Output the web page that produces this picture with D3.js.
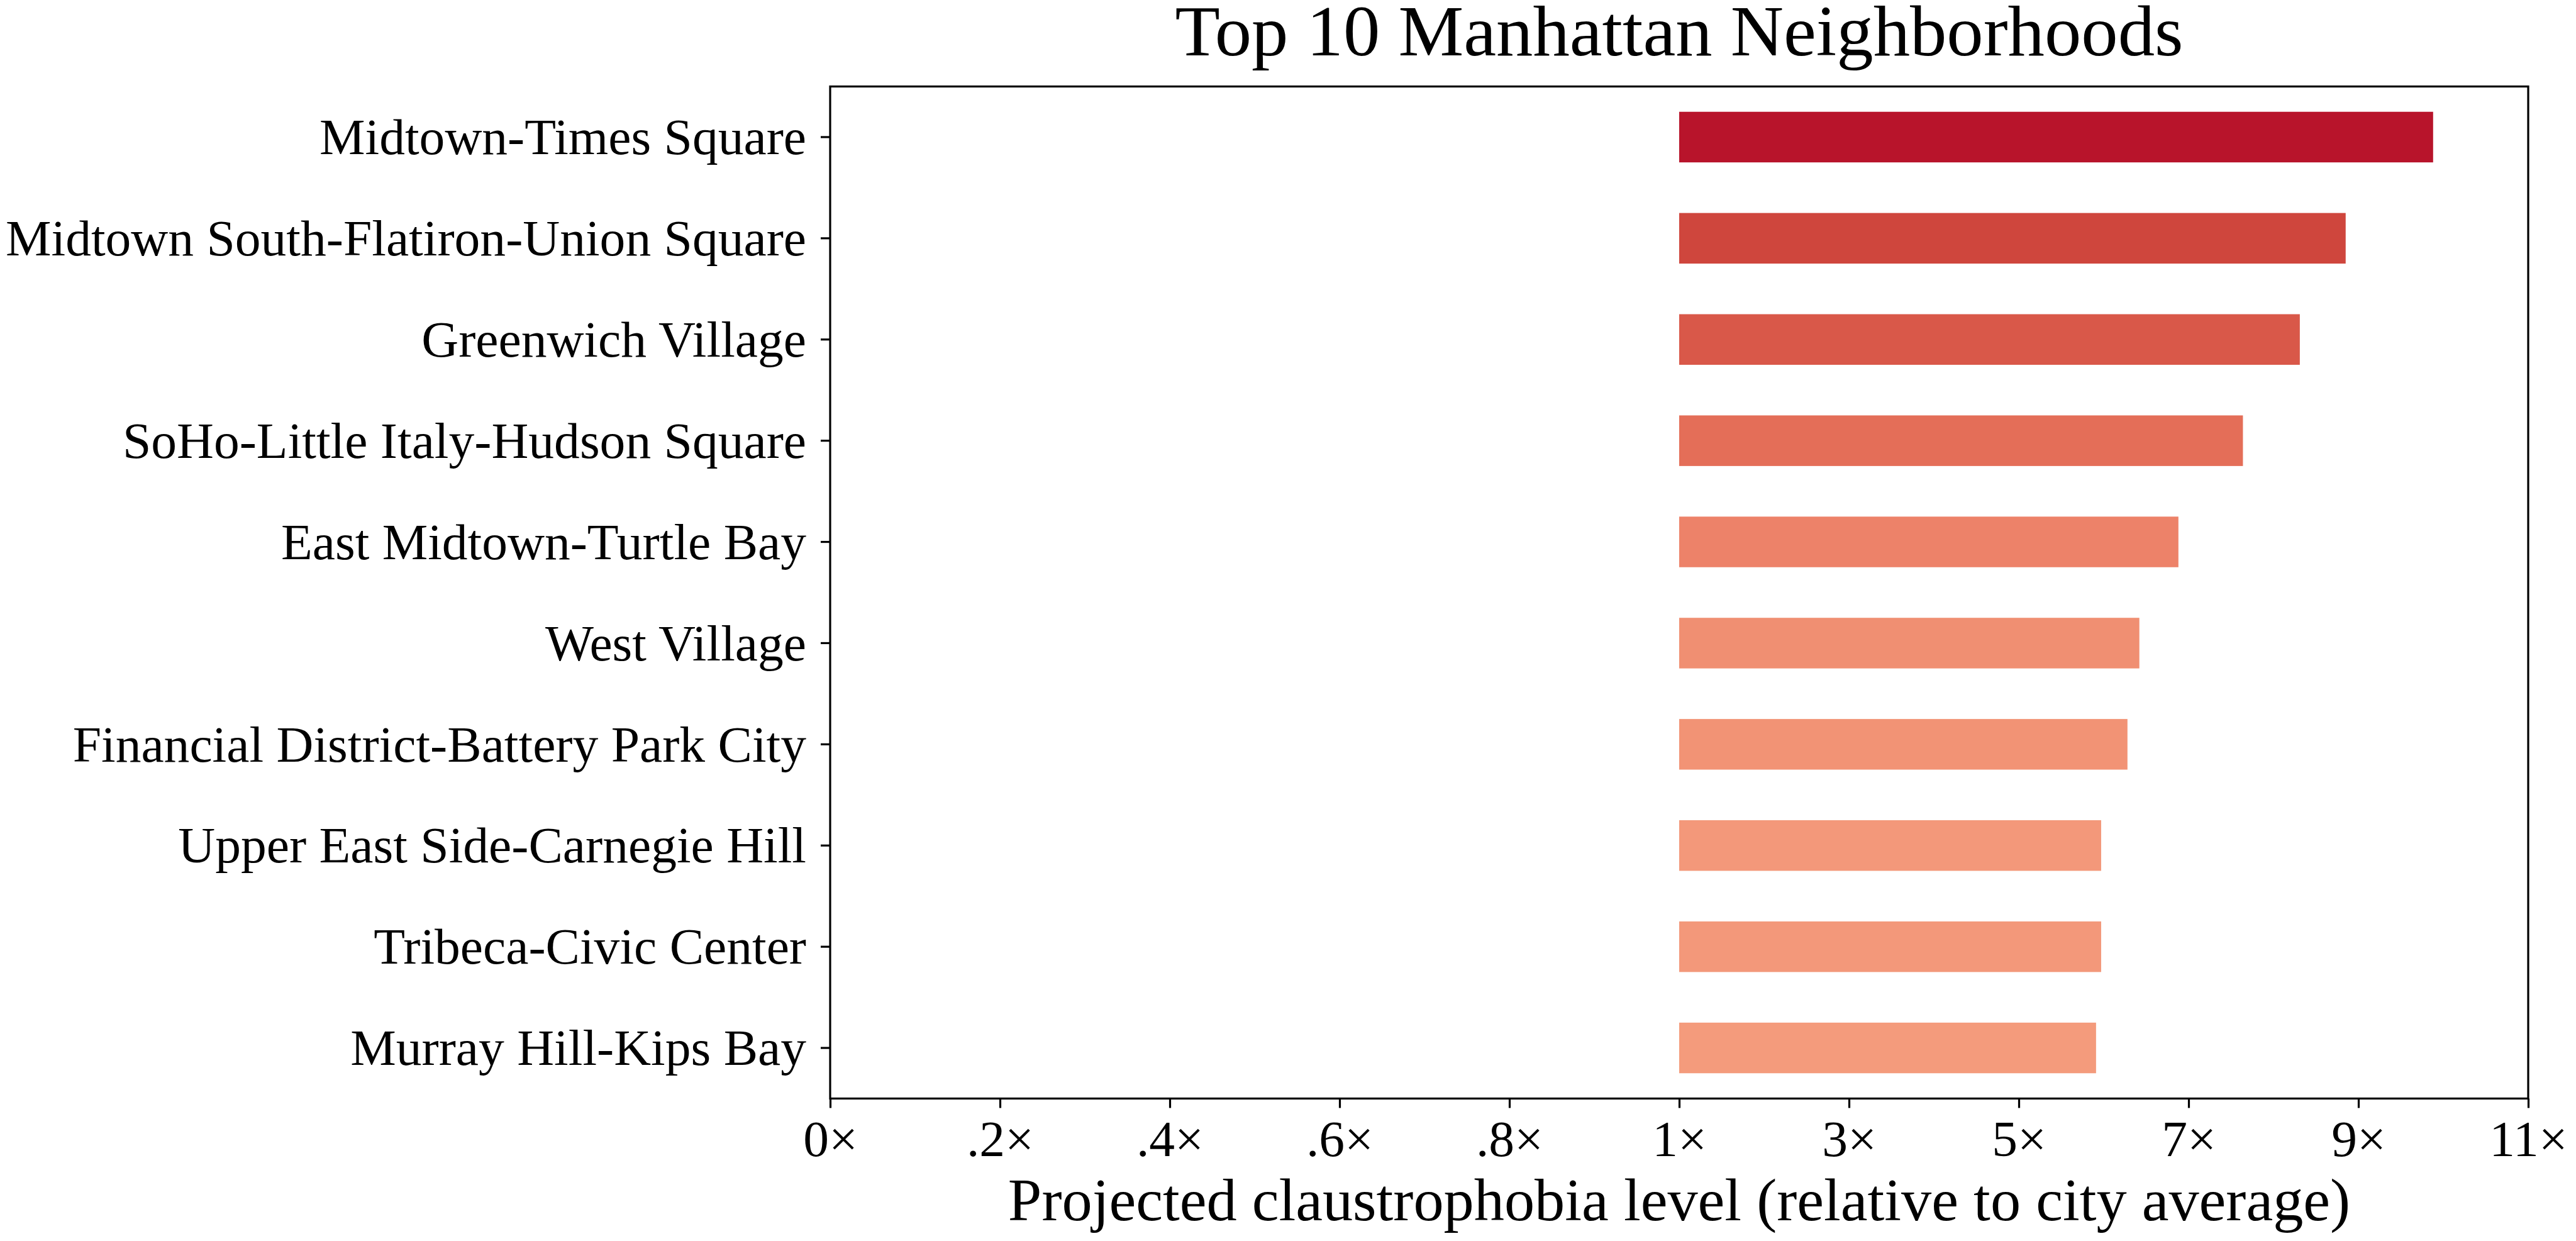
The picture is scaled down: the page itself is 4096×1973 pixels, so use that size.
<!DOCTYPE html>
<html>
<head>
<meta charset="utf-8">
<script src="https://cdn.jsdelivr.net/npm/d3@7"></script>
<style>
html,body{margin:0;padding:0;background:#fff;}
svg{display:block;}
text{font-family:"Liberation Serif","DejaVu Serif",serif;fill:#000;}
</style>
</head>
<body>
<script>
const categories = [
  "Midtown-Times Square",
  "Midtown South-Flatiron-Union Square",
  "Greenwich Village",
  "SoHo-Little Italy-Hudson Square",
  "East Midtown-Turtle Bay",
  "West Village",
  "Financial District-Battery Park City",
  "Upper East Side-Carnegie Hill",
  "Tribeca-Civic Center",
  "Murray Hill-Kips Bay"
];
const values = [9.88, 8.85, 8.31, 7.64, 6.88, 6.42, 6.28, 5.97, 5.97, 5.91];
const barColors = ["#b8142b","#cf463d","#d95849","#e46e58","#ed8269","#f08f72","#f29375","#f3987a","#f3987a","#f49b7c"];
const tickValues = [0, 0.2, 0.4, 0.6, 0.8, 1, 3, 5, 7, 9, 11];
const tickLabels = ["0×", ".2×", ".4×", ".6×", ".8×", "1×", "3×", "5×", "7×", "9×", "11×"];
const baseValue = 1;
const titleText = "Top 10 Manhattan Neighborhoods";
const xLabelText = "Projected claustrophobia level (relative to city average)";

const W = 4096, H = 1973;
const m = {left: 1320, right: 4020, top: 137.5, bottom: 1746.5};
const lw = 3.2, tickLen = 15;

const svg = d3.select("body").append("svg").attr("width", W).attr("height", H);

const x = d3.scaleLinear().domain([0, 1, 11]).range([m.left, (m.left + m.right) / 2, m.right]);
const y = d3.scaleBand().domain(categories).range([m.top, m.bottom]).paddingInner(0.5).paddingOuter(0.25);

// bars
svg.append("g").selectAll("rect").data(categories).join("rect")
  .attr("x", x(baseValue))
  .attr("y", d => y(d))
  .attr("width", (d, i) => x(values[i]) - x(baseValue))
  .attr("height", y.bandwidth())
  .attr("fill", (d, i) => barColors[i]);

// x axis
const xAxis = d3.axisBottom(x).tickValues(tickValues)
  .tickFormat((d, i) => tickLabels[i]).tickSize(tickLen).tickPadding(22);
const gx = svg.append("g").attr("transform", `translate(0,${m.bottom})`).call(xAxis);
gx.select(".domain").remove();
gx.selectAll(".tick line").attr("stroke", "#000").attr("stroke-width", lw);
gx.selectAll(".tick text").attr("font-size", 80).attr("dy", null).attr("y", 1838 - m.bottom).attr("dominant-baseline", "auto");

// y axis
const yAxis = d3.axisLeft(y).tickSize(tickLen).tickPadding(23);
const gy = svg.append("g").attr("transform", `translate(${m.left},0)`).call(yAxis);
gy.select(".domain").remove();
gy.selectAll(".tick line").attr("stroke", "#000").attr("stroke-width", lw);
gy.selectAll(".tick text").attr("font-size", 80).attr("dy", "0.34em");

// frame
svg.append("rect").attr("x", m.left).attr("y", m.top)
  .attr("width", m.right - m.left).attr("height", m.bottom - m.top)
  .attr("fill", "none").attr("stroke", "#000").attr("stroke-width", lw);

// title
svg.append("text").attr("class", "title")
  .attr("x", (m.left + m.right) / 2).attr("y", 88)
  .attr("text-anchor", "middle").attr("font-size", 114.5).text(titleText);

// x label
svg.append("text").attr("class", "xlabel")
  .attr("x", (m.left + m.right) / 2).attr("y", 1940)
  .attr("text-anchor", "middle").attr("font-size", 94.5).text(xLabelText);

// stretch all text horizontally to mimic the wider Computer Modern face
const ref = gy.selectAll(".tick text").filter(d => d === categories[1]).node();
const k = 1273 / ref.getComputedTextLength();
svg.selectAll("text").each(function() {
  const len = this.getComputedTextLength();
  d3.select(this).attr("textLength", len * k).attr("lengthAdjust", "spacingAndGlyphs");
});
</script>
</body>
</html>
